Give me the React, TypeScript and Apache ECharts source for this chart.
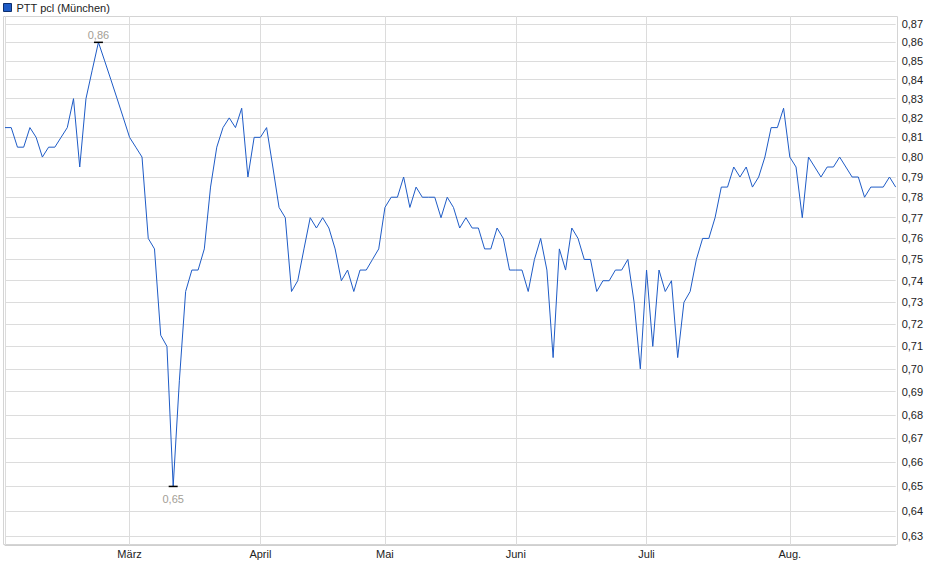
import React, { useEffect, useRef } from "react";
import * as echarts from "echarts";

const seriesName = "PTT pcl (München)";

// closing prices, one per trading day (mid Feb - late Aug)
const prices = [
  0.815, 0.815, 0.805, 0.805, 0.815, 0.81, 0.8, 0.805, 0.805, 0.81,
  0.815, 0.83, 0.795, 0.83, 0.845, 0.86, 0.85, 0.84, 0.83, 0.82,
  0.81, 0.805, 0.8, 0.76, 0.755, 0.715, 0.71, 0.65, 0.695, 0.735,
  0.745, 0.745, 0.755, 0.785, 0.805, 0.815, 0.82, 0.815, 0.825, 0.79,
  0.81, 0.81, 0.815, 0.795, 0.775, 0.77, 0.735, 0.74, 0.755, 0.77,
  0.765, 0.77, 0.765, 0.755, 0.74, 0.745, 0.735, 0.745, 0.745, 0.75,
  0.755, 0.775, 0.78, 0.78, 0.79, 0.775, 0.785, 0.78, 0.78, 0.78,
  0.77, 0.78, 0.775, 0.765, 0.77, 0.765, 0.765, 0.755, 0.755, 0.765,
  0.76, 0.745, 0.745, 0.745, 0.735, 0.75, 0.76, 0.745, 0.705, 0.755,
  0.745, 0.765, 0.76, 0.75, 0.75, 0.735, 0.74, 0.74, 0.745, 0.745,
  0.75, 0.73, 0.7, 0.745, 0.71, 0.745, 0.735, 0.74, 0.705, 0.73,
  0.735, 0.75, 0.76, 0.76, 0.77, 0.785, 0.785, 0.795, 0.79, 0.795,
  0.785, 0.79, 0.8, 0.815, 0.815, 0.825, 0.8, 0.795, 0.77, 0.8,
  0.795, 0.79, 0.795, 0.795, 0.8, 0.795, 0.79, 0.79, 0.78, 0.785,
  0.785, 0.785, 0.79, 0.785,
];

const monthLabels = ["März", "April", "Mai", "Juni", "Juli", "Aug."];
const monthStarts = [20, 41, 61, 82, 103, 126];

const yTicks = [
  0.63, 0.64, 0.65, 0.66, 0.67, 0.68, 0.69, 0.7, 0.71, 0.72, 0.73, 0.74,
  0.75, 0.76, 0.77, 0.78, 0.79, 0.8, 0.81, 0.82, 0.83, 0.84, 0.85, 0.86, 0.87,
];

const font = "'Liberation Sans', Arial, sans-serif";
const lineColor = "#1e5bc6";
const fmt = (v: number) => v.toFixed(2).replace(".", ",");

const App: React.FC = () => {
  const chartRef = useRef<HTMLDivElement>(null);

  useEffect(() => {
    document.body.style.margin = "0";
    const chart = echarts.init(chartRef.current!, null, { renderer: "svg" });
    const days = prices.map((_, i) => String(i));

    chart.setOption({
      animation: false,
      textStyle: { fontFamily: font },
      legend: {
        left: 3,
        top: 2,
        padding: 0,
        itemWidth: 8,
        itemHeight: 8,
        icon: "rect",
        itemStyle: { borderColor: "#0d2f6e", borderWidth: 1 },
        textStyle: { fontSize: 11, color: "#222", fontFamily: font },
        data: [seriesName],
      },
      grid: { left: 5, right: 44.3, top: 16, bottom: 34 },
      graphic: [
        {
          type: "rect",
          shape: { x: 3.5, y: 16.5, width: 894, height: 528 },
          style: { fill: "none", stroke: "#d4d4d4", lineWidth: 1 },
          silent: true,
          z: 0,
        },
      ],
      xAxis: {
        type: "category",
        data: days,
        boundaryGap: false,
        axisLine: { lineStyle: { color: "#cfcfcf" } },
        axisTick: { show: false },
        axisLabel: {
          interval: (i: number) => monthStarts.includes(i),
          formatter: (_: string, i: number) => monthLabels[monthStarts.indexOf(i)] ?? "",
          fontSize: 11,
          color: "#222",
          margin: 3,
          fontFamily: font,
        },
        splitLine: {
          show: true,
          interval: (i: number) => i === 0 || monthStarts.includes(i),
          lineStyle: { color: "#dcdcdc", width: 1 },
        },
      },
      yAxis: {
        type: "log",
        logBase: 10,
        position: "right",
        min: 0.62644,
        max: 0.8744,
        axisLine: { show: false },
        axisTick: { show: false, customValues: yTicks },
        axisLabel: {
          customValues: yTicks,
          formatter: (v: number) => fmt(v),
          fontSize: 11,
          color: "#222",
          margin: 6,
          fontFamily: font,
        },
        splitLine: { show: true, lineStyle: { color: "#dcdcdc", width: 1 } },
      },
      series: [
        {
          name: seriesName,
          type: "line",
          data: prices,
          showSymbol: false,
          color: lineColor,
          lineStyle: { color: lineColor, width: 1 },
          markPoint: {
            symbol: "rect",
            symbolSize: [9, 1.5],
            itemStyle: { color: "#000" },
            label: {
              show: true,
              color: "#a39e96",
              fontSize: 11,
              fontFamily: font,
              formatter: (p: any) => fmt(p.value),
            },
            data: [
              { type: "max", label: { position: "top", distance: 1 } },
              { type: "min", label: { position: "bottom", distance: 6 } },
            ],
          },
        },
      ],
    });

    return () => {
      chart.dispose();
    };
  }, []);

  return <div ref={chartRef} style={{ width: "940px", height: "579px" }} />;
};

export default App;
